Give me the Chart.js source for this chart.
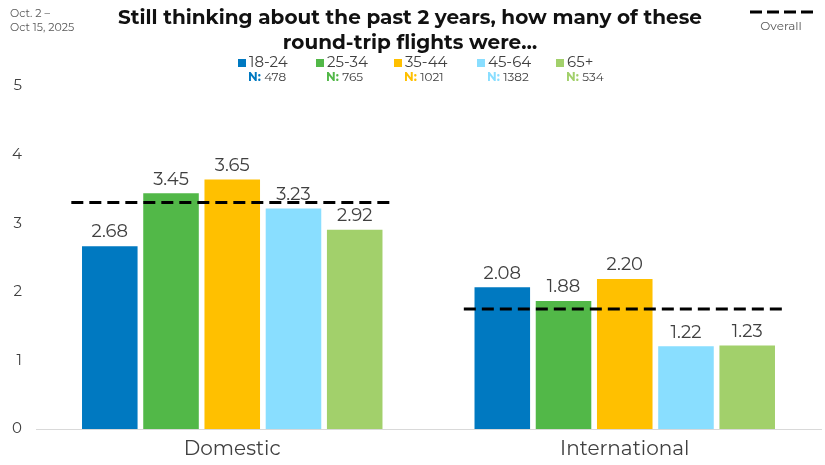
<!DOCTYPE html>
<html>
<head>
<meta charset="utf-8">
<script src="https://cdn.jsdelivr.net/npm/chart.js@4.4.1/dist/chart.umd.min.js"></script>
<style>
  html, body { margin: 0; padding: 0; background: #fff; }
  #wrap { width: 825px; height: 465px; position: relative; }
</style>
</head>
<body>
<div id="wrap"><canvas id="flights" width="825" height="465"></canvas></div>
<script>
// categories and series
var categories = ['Domestic', 'International'];
var groups = ['18-24', '25-34', '35-44', '45-64', '65+'];
var groupN = [478, 765, 1021, 1382, 534];
var groupColors = ['#0079C1', '#52B848', '#FFC000', '#89DEFF', '#A2D06B'];

var v1824 = [2.68, 2.08];
var v2534 = [3.45, 1.88];
var v3544 = [3.65, 2.20];
var v4564 = [3.23, 1.22];
var v65 = [2.92, 1.23];
var overall = [3.30, 1.75];

var yTicks = [0, 1, 2, 3, 4, 5];

var FONT = "Montserrat, 'Open Sans', sans-serif";
var GREY = '#404040';

var seriesValues = [v1824, v2534, v3544, v4564, v65];
var datasets = groups.map(function (g, i) {
    return {
        label: g,
        data: seriesValues[i],
        backgroundColor: groupColors[i],
        borderColor: 'rgba(255,255,255,0.6)',
        borderWidth: 1,
        categoryPercentage: 0.78,
        barPercentage: 0.94
    };
});

// value labels over bars
var barLabels = {
    id: 'barLabels',
    afterDatasetsDraw: function (chart) {
        var ctx = chart.ctx;
        ctx.save();
        ctx.font = '18px ' + FONT;
        ctx.fillStyle = GREY;
        ctx.textAlign = 'center';
        ctx.textBaseline = 'bottom';
        chart.data.datasets.forEach(function (ds, i) {
            chart.getDatasetMeta(i).data.forEach(function (bar, j) {
                ctx.fillText(ds.data[j].toFixed(2), bar.x, bar.y - 4);
            });
        });
        ctx.restore();
    }
};

// dashed overall line per category
var overallLines = {
    id: 'overallLines',
    afterDatasetsDraw: function (chart) {
        var ctx = chart.ctx;
        var x = chart.scales.x, y = chart.scales.y;
        var half = (x.right - x.left) / categories.length * 0.41;
        ctx.save();
        ctx.strokeStyle = '#000';
        ctx.lineWidth = 3;
        ctx.setLineDash([12, 6]);
        overall.forEach(function (v, i) {
            var cx = x.getPixelForValue(i);
            var py = y.getPixelForValue(v);
            ctx.beginPath();
            ctx.moveTo(cx - half, py);
            ctx.lineTo(cx + half, py);
            ctx.stroke();
        });
        ctx.restore();
    }
};

// title, legend, date, overall key
var header = {
    id: 'header',
    afterDraw: function (chart) {
        var ctx = chart.ctx;
        ctx.save();
        ctx.textAlign = 'center';
        ctx.textBaseline = 'middle';
        ctx.fillStyle = '#111';
        ctx.font = 'bold 20px ' + FONT;
        ctx.fillText('Still thinking about the past 2 years, how many of these', 410, 18);
        ctx.fillText('round-trip flights were\u2026', 410, 43);

        ctx.textAlign = 'left';
        ctx.fillStyle = '#595959';
        ctx.font = '11px ' + FONT;
        ctx.fillText('Oct. 2 \u2013', 10, 14);
        ctx.fillText('Oct 15, 2025', 10, 28);

        var boxX = [238, 316, 394, 477, 556];
        groups.forEach(function (g, i) {
            ctx.fillStyle = groupColors[i];
            ctx.fillRect(boxX[i], 59, 8, 8);
            ctx.fillStyle = GREY;
            ctx.font = '15px ' + FONT;
            ctx.fillText(g, boxX[i] + 11, 63);
            ctx.font = 'bold 12px ' + FONT;
            ctx.fillStyle = groupColors[i];
            var nx = boxX[i] + 10;
            ctx.fillText('N:', nx, 77);
            var w = ctx.measureText('N: ').width;
            ctx.font = '12px ' + FONT;
            ctx.fillStyle = GREY;
            ctx.fillText(String(groupN[i]), nx + w, 77);
        });

        ctx.strokeStyle = '#000';
        ctx.lineWidth = 3;
        ctx.setLineDash([12, 5]);
        ctx.beginPath();
        ctx.moveTo(750, 12);
        ctx.lineTo(813, 12);
        ctx.stroke();
        ctx.setLineDash([]);
        ctx.textAlign = 'center';
        ctx.fillStyle = '#595959';
        ctx.font = '12px ' + FONT;
        ctx.fillText('Overall', 781, 26);
        ctx.restore();
    }
};

new Chart(document.getElementById('flights').getContext('2d'), {
    type: 'bar',
    data: {
        labels: categories,
        datasets: datasets
    },
    options: {
        responsive: false,
        animation: false,
        layout: { padding: { top: 86, right: 4, left: 0, bottom: 0 } },
        plugins: {
            legend: { display: false },
            title: { display: false },
            tooltip: { enabled: false }
        },
        scales: {
            x: {
                grid: { display: false, drawTicks: false },
                border: { display: true, color: '#d9d9d9', width: 1 },
                ticks: { color: GREY, font: { family: FONT, size: 20 }, padding: 8 },
                afterFit: function (s) { s.height = 36; }
            },
            y: {
                min: 0,
                max: 5,
                afterBuildTicks: function (s) { s.ticks = yTicks.map(function (v) { return { value: v }; }); },
                grid: { display: false, drawTicks: false },
                border: { display: false },
                ticks: { color: GREY, font: { family: FONT, size: 15 }, padding: 14 },
                afterFit: function (s) { s.width = 36; }
            }
        }
    },
    plugins: [barLabels, overallLines, header]
});
</script>
</body>
</html>
